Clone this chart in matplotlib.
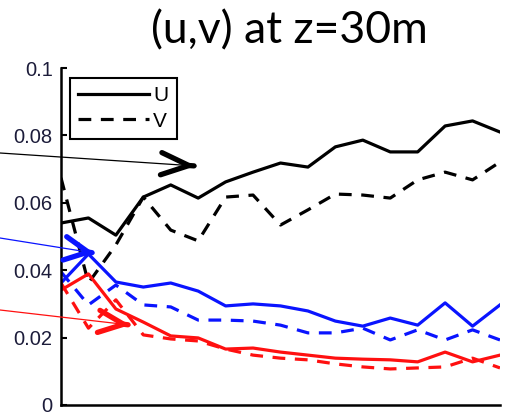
import numpy as np
import matplotlib
matplotlib.use('Agg')
import matplotlib.pyplot as plt

# ---- data ----
idx = list(range(17))
black_u = [0.0540, 0.0555, 0.0504, 0.0617, 0.0653, 0.0614, 0.0662, 0.0691, 0.0718,
           0.0706, 0.0766, 0.0786, 0.0751, 0.0751, 0.0828, 0.0843, 0.0810]
black_v = [0.0674, 0.0362, 0.0475, 0.0617, 0.0519, 0.0487, 0.0617, 0.0623, 0.0534,
           0.0579, 0.0626, 0.0623, 0.0614, 0.0668, 0.0691, 0.0668, 0.0721]
blue_u = [0.0362, 0.0448, 0.0365, 0.0350, 0.0362, 0.0338, 0.0294, 0.0300, 0.0294,
          0.0279, 0.0249, 0.0234, 0.0258, 0.0237, 0.0303, 0.0234, 0.0297]
blue_v = [0.0395, 0.0297, 0.0356, 0.0297, 0.0291, 0.0252, 0.0252, 0.0249, 0.0237,
          0.0214, 0.0214, 0.0228, 0.0193, 0.0223, 0.0193, 0.0223, 0.0193]
red_u = [0.0341, 0.0389, 0.0285, 0.0246, 0.0205, 0.0199, 0.0166, 0.0169, 0.0157,
         0.0148, 0.0139, 0.0136, 0.0134, 0.0128, 0.0157, 0.0128, 0.0148]
red_v = [0.0362, 0.0228, 0.0312, 0.0208, 0.0196, 0.0190, 0.0166, 0.0148, 0.0139,
         0.0134, 0.0122, 0.0113, 0.0107, 0.0110, 0.0113, 0.0139, 0.0110]

yticks = [0, 0.02, 0.04, 0.06, 0.08, 0.1]
yticklabels = ['0', '0.02', '0.04', '0.06', '0.08', '0.1']
legend_labels = ['U', 'V']
title = '(u,v) at z=30m'

W, H = 512, 416
fig = plt.figure(figsize=(W / 100, H / 100), dpi=100)
ax = fig.add_axes([61 / W, 11 / H, 439 / W, 337 / H])

lw = 2.3
dash = (4, 3)
l1, = ax.plot(idx, black_u, color='black', lw=lw, label=legend_labels[0])
l2, = ax.plot(idx, black_v, color='black', lw=lw, ls=(0, dash), label=legend_labels[1])
ax.plot(idx, blue_u, color='#0a14ff', lw=lw)
ax.plot(idx, blue_v, color='#0a14ff', lw=lw, ls=(0, dash))
ax.plot(idx, red_u, color='#ff1010', lw=lw)
ax.plot(idx, red_v, color='#ff1010', lw=lw, ls=(0, dash))

ax.set_xlim(idx[0], idx[-1])
ax.set_ylim(0, 0.1)
ax.set_yticks(yticks)
ax.set_yticklabels(yticklabels, family='Liberation Sans', fontsize=14.5, color='#1c1c3a')
ax.set_xticks([])
ax.tick_params(axis='y', direction='in', length=4, width=1.5, pad=6)
for s in ['top', 'right']:
    ax.spines[s].set_visible(False)
for s in ['left', 'bottom']:
    ax.spines[s].set_linewidth(1.8)

leg = ax.legend(handles=[l1, l2], loc='upper left', bbox_to_anchor=(0.0205, 0.97),
                borderaxespad=0, fancybox=False, framealpha=1, edgecolor='black',
                prop={'family': 'Liberation Sans', 'size': 15}, handlelength=3.4,
                handletextpad=0.2, labelspacing=0.3, borderpad=0.4)
leg.get_frame().set_linewidth(1.5)

fig.text(289 / W, 1 - 31 / H, title, ha='center', va='center', fontsize=32, family='Lato')

def px(x, y):
    return (x / W, 1 - y / H)

def arrow(tail, tip, color, hl, hw):
    ax.annotate('', xy=px(*tip), xytext=px(*tail), xycoords='figure fraction',
                textcoords='figure fraction',
                arrowprops=dict(arrowstyle='-', color=color, lw=0.9, shrinkA=0, shrinkB=0))
    dx = tip[0] - tail[0]
    dy = tip[1] - tail[1]
    n = np.hypot(dx, dy)
    back = (tip[0] - 2 * dx / n, tip[1] - 2 * dy / n)
    ax.annotate('', xy=px(*tip), xytext=px(*back), xycoords='figure fraction',
                textcoords='figure fraction',
                arrowprops=dict(arrowstyle=f'->,head_length={hl},head_width={hw}',
                                color=color, lw=3.8, shrinkA=0, shrinkB=0,
                                capstyle='round', joinstyle='miter'))

arrow((0, 153), (196, 166), 'black', 2.0, 0.8)
arrow((0, 238), (94, 253), '#0a14ff', 1.7, 0.85)
arrow((0, 310), (130, 325), '#ff1010', 1.8, 0.8)

fig.savefig('out.png', dpi=100)
